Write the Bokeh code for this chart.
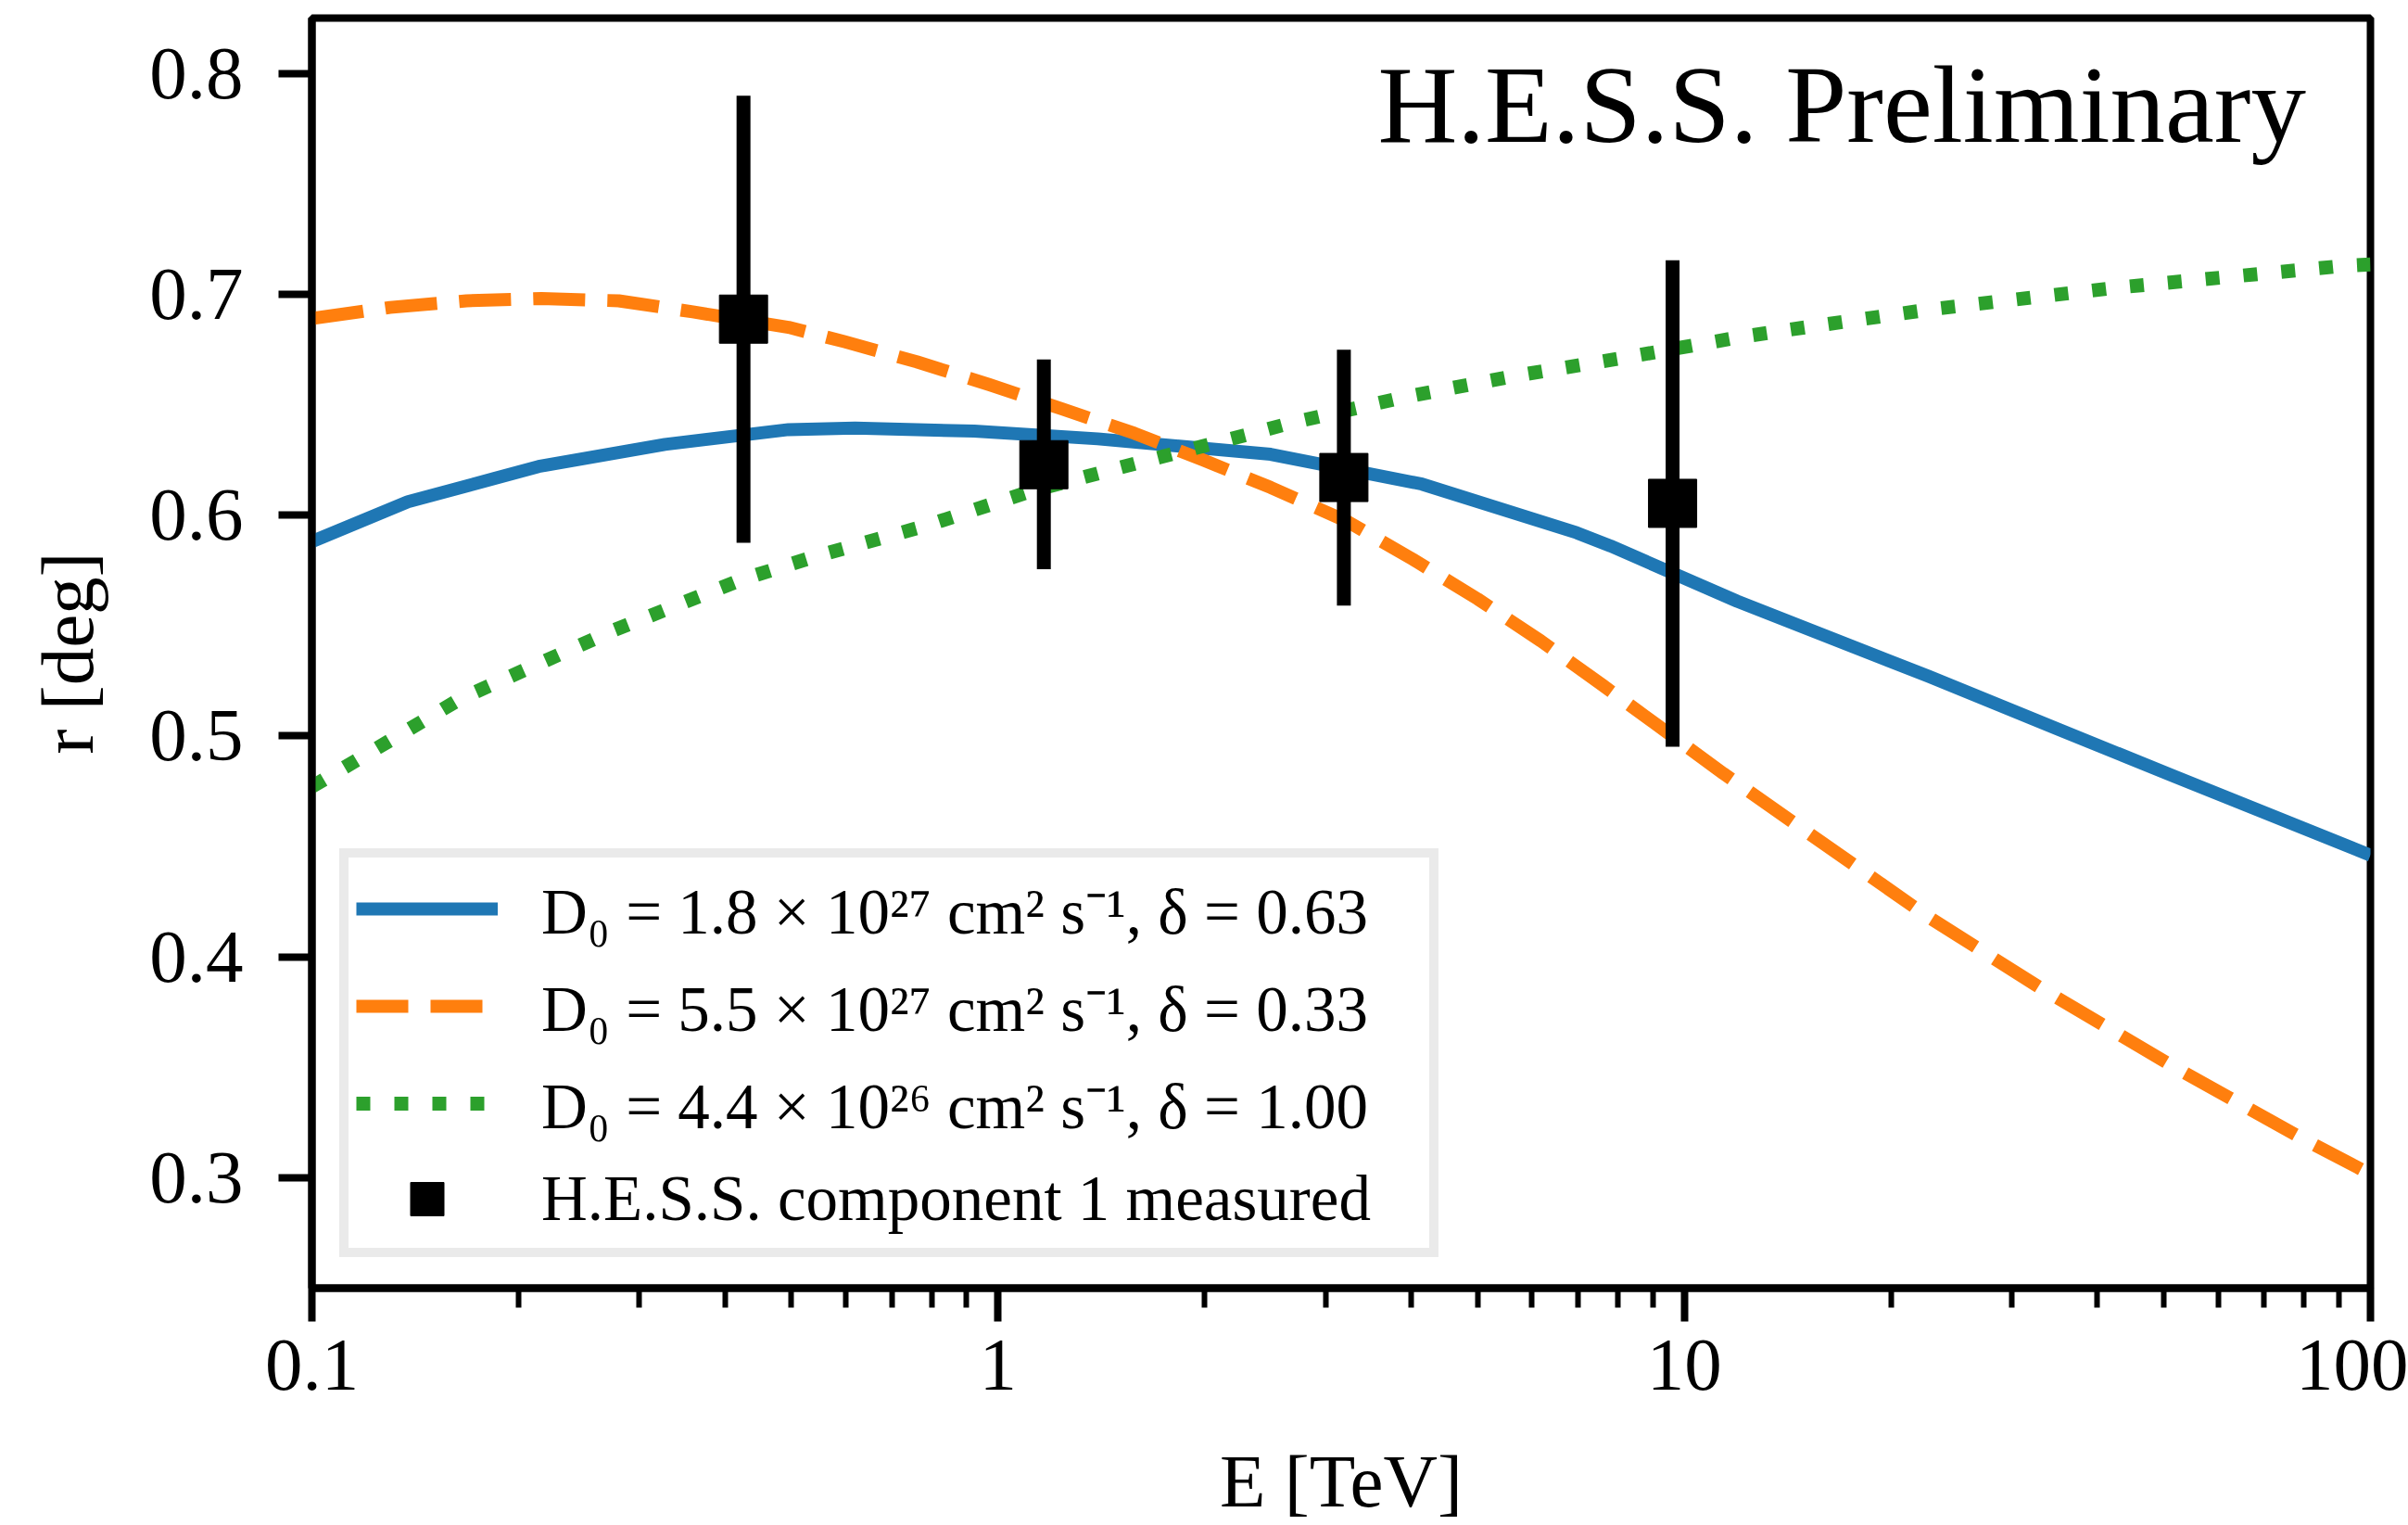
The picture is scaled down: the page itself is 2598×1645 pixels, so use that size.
from bokeh.plotting import figure
from bokeh.models import (Range1d, FixedTicker, Legend, LegendItem, Label, ColumnDataSource)
from bokeh.embed import file_html
from bokeh.resources import INLINE

# ---- data ----
blue_E = [0.1, 0.138, 0.214, 0.327, 0.495, 0.619, 0.923, 1.397, 2.496, 4.148,
          6.97, 7.81, 11.94, 22.7, 35.1, 51.5, 100]
blue_r = [0.588, 0.606, 0.622, 0.632, 0.6387, 0.6394, 0.638, 0.6345, 0.6275, 0.614,
          0.592, 0.586, 0.561, 0.527, 0.503, 0.482, 0.446]

orange_E = [0.1, 0.13, 0.168, 0.216, 0.28, 0.359, 0.495, 0.597, 0.761, 0.972,
            1.24, 1.581, 1.987, 2.496, 3.233, 4.021, 5.0, 6.18, 7.6, 9.6, 11.4,
            22.7, 33.0, 51.5, 80.4, 100]
orange_r = [0.689, 0.694, 0.697, 0.698, 0.697, 0.692, 0.685, 0.6785, 0.6694, 0.659,
            0.648, 0.637, 0.625, 0.6125, 0.597, 0.580, 0.562, 0.543, 0.523, 0.500, 0.483,
            0.418, 0.386, 0.3505, 0.317, 0.3016]

green_E = [0.1, 0.165, 0.276, 0.425, 0.538, 0.782, 1.123, 1.615, 2.346, 2.656,
           3.858, 5.66, 8.27, 12.06, 15.48, 22.7, 33.2, 42.8, 92, 100]
green_r = [0.477, 0.517, 0.548, 0.571, 0.581, 0.595, 0.611, 0.624, 0.637, 0.6415,
           0.653, 0.663, 0.6715, 0.6806, 0.6856, 0.693, 0.699, 0.703, 0.7129, 0.7135]

hess_E = [0.4256, 1.166, 3.191, 9.616]
hess_r = [0.6887, 0.6228, 0.6170, 0.6053]
hess_lo = [0.5874, 0.5755, 0.5590, 0.4951]
hess_hi = [0.7899, 0.6704, 0.6748, 0.7154]

x_major = [0.1, 1, 10, 100]
x_labels = ["0.1", "1", "10", "100"]
y_major = [0.3, 0.4, 0.5, 0.6, 0.7, 0.8]
y_labels = ["0.3", "0.4", "0.5", "0.6", "0.7", "0.8"]

legend_labels = [
    "D\u2080 = 1.8 \u00d7 10\u00b2\u2077 cm\u00b2 s\u207b\u00b9, \u03b4 = 0.63",
    "D\u2080 = 5.5 \u00d7 10\u00b2\u2077 cm\u00b2 s\u207b\u00b9, \u03b4 = 0.33",
    "D\u2080 = 4.4 \u00d7 10\u00b2\u2076 cm\u00b2 s\u207b\u00b9, \u03b4 = 1.00",
    "H.E.S.S. component 1 measured",
]

FONT = "Liberation Serif"

p = figure(width=2598, height=1645, x_axis_type="log",
           x_range=Range1d(0.1, 100), y_range=Range1d(0.25, 0.825),
           output_backend="svg", toolbar_location=None,
           min_border_left=336, min_border_right=41,
           min_border_top=19, min_border_bottom=254)

p.background_fill_color = "white"
p.border_fill_color = "white"
p.outline_line_color = "black"
p.outline_line_width = 8
p.grid.visible = False

minor = [d * m for d in (0.1, 1, 10) for m in range(2, 10)]
p.xaxis.ticker = FixedTicker(ticks=x_major, minor_ticks=minor)
p.xaxis.major_label_overrides = {v: s for v, s in zip(x_major, x_labels)}
p.yaxis.ticker = FixedTicker(ticks=y_major, minor_ticks=[])
p.yaxis.major_label_overrides = {v: s for v, s in zip(y_major, y_labels)}

for ax in (p.xaxis[0], p.yaxis[0]):
    ax.axis_line_width = 8
    ax.axis_line_color = "black"
    ax.major_tick_in = 0
    ax.major_tick_out = 36
    ax.minor_tick_in = 0
    ax.minor_tick_out = 21
    ax.major_tick_line_width = 8
    ax.minor_tick_line_width = 6
    ax.major_label_text_font = FONT
    ax.major_label_text_font_size = "81px"
    ax.major_label_text_color = "black"
    ax.axis_label_text_font = FONT
    ax.axis_label_text_font_size = "81px"
    ax.axis_label_text_font_style = "normal"
    ax.axis_label_text_color = "black"
p.xaxis.major_label_standoff = 20
p.yaxis.major_label_standoff = 38
p.xaxis.axis_label = "E [TeV]"
p.yaxis.axis_label = "r [deg]"
p.xaxis.axis_label_standoff = 51
p.yaxis.axis_label_standoff = 40

src_b = ColumnDataSource(dict(x=blue_E, y=blue_r))
src_o = ColumnDataSource(dict(x=orange_E, y=orange_r))
src_g = ColumnDataSource(dict(x=green_E, y=green_r))
src_h = ColumnDataSource(dict(x=hess_E, y=hess_r, lo=hess_lo, hi=hess_hi))

lb = p.line("x", "y", source=src_b, line_color="#1f77b4", line_width=14, line_join="round")
lo = p.line("x", "y", source=src_o, line_color="#ff7f0e", line_width=14, line_dash="56 24", line_join="round")
lg = p.line("x", "y", source=src_g, line_color="#2ca02c", line_width=15, line_dash="15 26", line_join="round")
p.segment(x0="x", y0="lo", x1="x", y1="hi", source=src_h, line_color="black", line_width=15)
sq = p.scatter("x", "y", source=src_h, marker="square", size=52, fill_color="black", line_color="black")

legend = Legend(items=[
    LegendItem(label=legend_labels[0], renderers=[lb]),
    LegendItem(label=legend_labels[1], renderers=[lo]),
    LegendItem(label=legend_labels[2], renderers=[lg]),
    LegendItem(label=legend_labels[3], renderers=[sq]),
], location=(30, 33))
legend.border_line_color = "#d6d6d6"
legend.border_line_width = 10
legend.background_fill_color = "white"
legend.background_fill_alpha = 1.0
legend.glyph_width = 153
legend.glyph_height = 90
legend.label_height = 80
legend.label_width = 950
legend.label_standoff = 47
legend.spacing = 11
legend.padding = 8
legend.margin = 0
legend.label_text_font = FONT
legend.label_text_font_size = "69px"
legend.label_text_color = "black"
legend.label_text_baseline = "middle"
p.add_layout(legend, "center")

# in-plot annotation
p.add_layout(Label(x=2151.5, y=1277, x_units="screen", y_units="screen",
                   text="H.E.S.S. Preliminary", text_font=FONT, text_font_size="119px",
                   text_align="right", text_baseline="alphabetic", text_color="black"))

open("out.html", "w").write(file_html(p, INLINE))
